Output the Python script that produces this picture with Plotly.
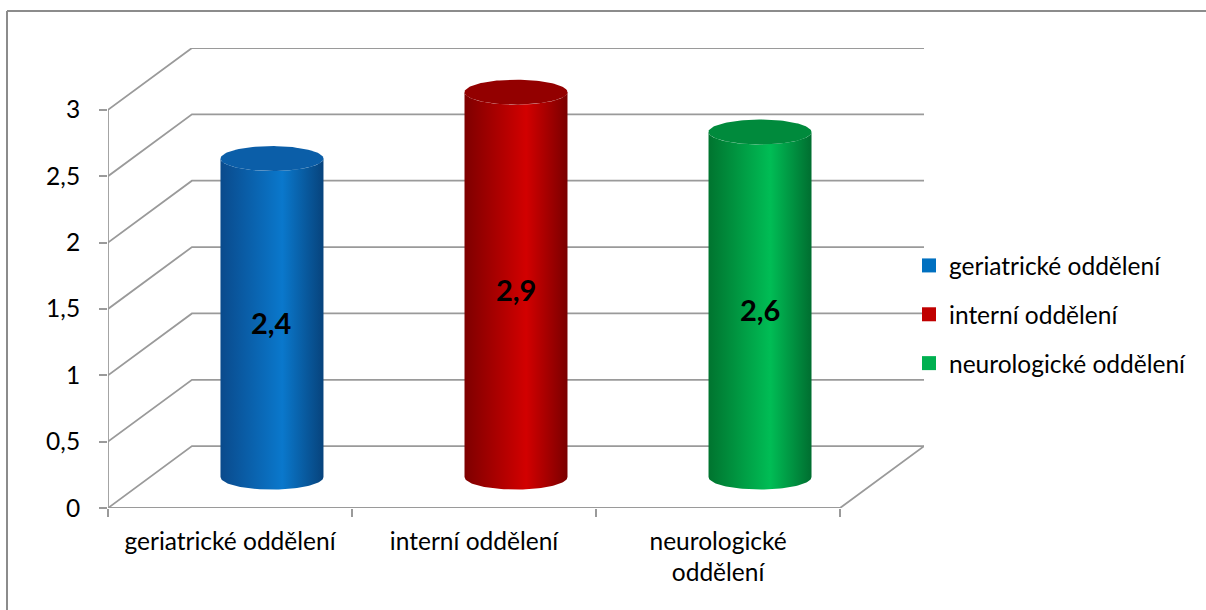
import numpy as np
import plotly.graph_objects as go

# ---- data -------------------------------------------------------------
categories = ["geriatrické oddělení", "interní oddělení", "neurologické oddělení"]
tick_labels = ["geriatrické oddělení", "interní oddělení", "neurologické<br>oddělení"]
values = [2.4, 2.9, 2.6]
y_ticks = [0, 0.5, 1, 1.5, 2, 2.5, 3]

# ---- styling ------------------------------------------------------------
body_scales = [
    ["#0a4a8c", "#0a78cc", "#07437c"],
    ["#7e0000", "#d20000", "#7a0000"],
    ["#00742f", "#00bd55", "#006e30"],
]
cap_colors = ["#0b5ea8", "#930000", "#008a3c"]
legend_colors = ["#0070c0", "#c00000", "#00b050"]
grid_color = "#9a9a9a"
FONT = "Lato"

# ---- fake-3D geometry (in axis units) ----------------------------------
W, H = 1206, 610
L, T, R, B = 108, 48, 282, 102
PW, PH = W - L - R, H - T - B
DX = 0.344          # depth offset along x (category units)
DY = 0.466          # depth offset along y (value units)
RX = 0.211          # cylinder radius along x
RY = 0.094          # ellipse half-height along y

fig = go.Figure()

# walls and floor
for v in y_ticks:
    fig.add_trace(go.Scatter(
        x=[0, DX, 3 + DX], y=[v, v + DY, v + DY], mode="lines",
        line=dict(color=grid_color, width=1.8), hoverinfo="skip", showlegend=False))
fig.add_trace(go.Scatter(
    x=[0, 3, 3 + DX], y=[0, 0, DY], mode="lines",
    line=dict(color=grid_color, width=1.8), hoverinfo="skip", showlegend=False))
fig.add_trace(go.Scatter(
    x=[0, 0], y=[0, 3], mode="lines",
    line=dict(color=grid_color, width=1.8), hoverinfo="skip", showlegend=False))

# cylinders
theta_front = np.linspace(np.pi, 2 * np.pi, 60)
theta_full = np.linspace(0, 2 * np.pi, 120)
for i, (name, v) in enumerate(zip(categories, values)):
    cx = i + 0.5 + DX / 2
    base = DY / 2
    top = v + DY / 2
    xs = np.concatenate([
        [cx - RX, cx - RX],
        cx + RX * np.cos(theta_front),
        [cx + RX, cx + RX],
        cx + RX * np.cos(theta_front[::-1]),
    ])
    ys = np.concatenate([
        [base, top],
        top + RY * np.sin(theta_front),
        [top, base],
        base + RY * np.sin(theta_front[::-1]),
    ])
    sc = body_scales[i]
    fig.add_trace(go.Scatter(
        x=xs, y=ys, mode="lines", fill="toself", line=dict(width=0),
        fillgradient=dict(type="horizontal",
                          colorscale=[[0, sc[0]], [0.6, sc[1]], [1, sc[2]]]),
        hoverinfo="skip", showlegend=False))
    fig.add_trace(go.Scatter(
        x=cx + RX * np.cos(theta_full), y=top + RY * np.sin(theta_full),
        mode="lines", fill="toself", line=dict(width=0),
        fillcolor=cap_colors[i], hoverinfo="skip", showlegend=False))
    fig.add_annotation(
        x=cx, y=v / 2 + DY / 2, yshift=-5, showarrow=False,
        text="<b>" + f"{v:.1f}".replace(".", ",") + "</b>",
        font=dict(family=FONT, size=29, color="#000000"))

# legend entries
for i, name in enumerate(categories):
    fig.add_trace(go.Scatter(
        x=[None], y=[None], mode="markers", name=name, legendgroup=name,
        marker=dict(symbol="square", size=14, color=legend_colors[i])))

# outer chart frame (top and left edges)
fx0 = (7 - L) / PW
fy1 = (H - B - 11) / PH
fig.add_shape(type="line", xref="paper", yref="paper",
              x0=fx0, x1=(W - L) / PW, y0=fy1, y1=fy1,
              line=dict(color="#8c8c8c", width=2))
fig.add_shape(type="line", xref="paper", yref="paper",
              x0=fx0, x1=fx0, y0=-B / PH, y1=fy1,
              line=dict(color="#8c8c8c", width=2))

fig.update_layout(
    width=W, height=H,
    margin=dict(l=L, r=R, t=T, b=B),
    paper_bgcolor="white", plot_bgcolor="white",
    separators=", ",
    font=dict(family=FONT, size=24.5, color="#000000"),
    showlegend=True,
    legend=dict(x=(909 - L) / PW, xanchor="left",
                y=(H - B - 243) / PH, yanchor="top",
                font=dict(family=FONT, size=24.5, color="#000000"),
                tracegroupgap=14, bgcolor="rgba(0,0,0,0)"),
    xaxis=dict(range=[0, 3 + DX], showgrid=False, zeroline=False, showline=False,
               tickvals=[0.5, 1.5, 2.5], ticktext=tick_labels, ticks="",
               ticklabelstandoff=16,
               minor=dict(tickvals=[0, 1, 2, 3], ticks="outside", ticklen=8,
                          tickcolor=grid_color, tickwidth=1.8),
               fixedrange=True),
    yaxis=dict(range=[0, 3 + DY], showgrid=False, zeroline=False, showline=False,
               tickvals=y_ticks, ticks="outside", ticklen=8,
               tickcolor=grid_color, tickwidth=1.8, ticklabelstandoff=14,
               fixedrange=True),
)

fig.write_html("out.html")
